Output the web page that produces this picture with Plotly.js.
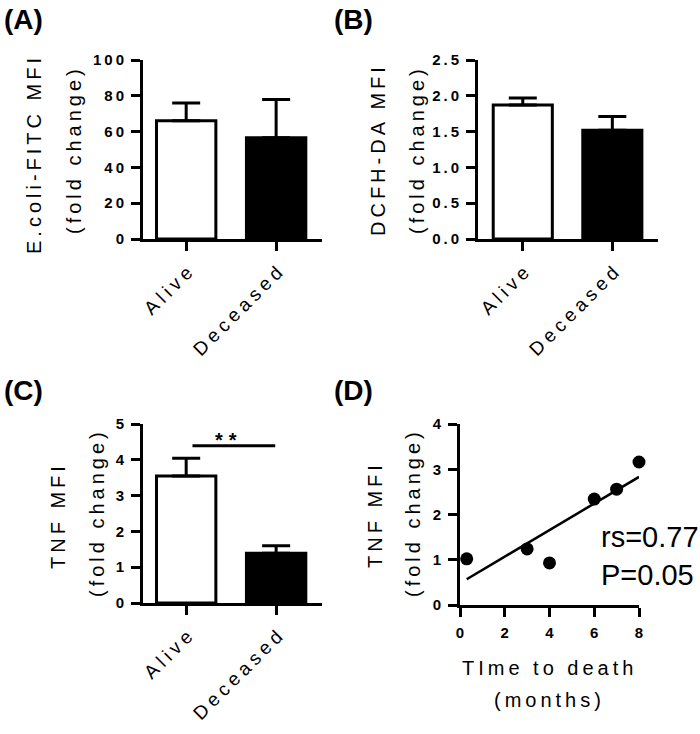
<!DOCTYPE html>
<html><head><meta charset="utf-8">
<script src="https://cdn.plot.ly/plotly-3.0.1.min.js"></script>
<style>
body{margin:0;padding:0;background:#fff}
#chart{width:700px;height:734px}
.xtick text, .x2tick text, .x3tick text {letter-spacing:4.5px}
.ytick text, .y2tick text, .y3tick text, .y4tick text, .x4tick text {letter-spacing:3px; font-weight:700 !important}
.x4tick text {letter-spacing:0px}
</style></head><body><div id="chart"></div>
<script>
const groups = ['Alive', 'Deceased'];
const ecoliMean = [66, 56.5];
const ecoliErr = [10, 21.5];
const dcfhMean = [1.87, 1.52];
const dcfhErr = [0.10, 0.19];
const tnfMean = [3.55, 1.39];
const tnfErr = [0.49, 0.21];
const barColors = ['white', 'black'];
const deathMonths = [0.3, 3, 4, 6, 7, 8];
const deathTnf = [1.02, 1.24, 0.93, 2.34, 2.56, 3.16];
const fitX = [0.3, 8];
const fitY = [0.57, 2.83];

const FAM = 'Arial, "Liberation Sans", sans-serif';
const W = 700, H = 734;
const px = v => v / W;
const py = v => 1 - v / H;

function barTrace(means, errs, xa, ya) {
  return {
    type: 'bar', x: groups, y: means, xaxis: xa, yaxis: ya, width: 0.66,
    marker: {color: barColors, line: {color: 'black', width: 3}},
    error_y: {type: 'data', array: errs, arrayminus: errs.map(() => 0), symmetric: false,
              color: 'black', thickness: 3, width: 14},
    showlegend: false, hoverinfo: 'skip'
  };
}

const data = [
  barTrace(ecoliMean, ecoliErr, 'x', 'y'),
  barTrace(dcfhMean, dcfhErr, 'x2', 'y2'),
  barTrace(tnfMean, tnfErr, 'x3', 'y3'),
  {type: 'scatter', mode: 'markers', x: deathMonths, y: deathTnf, xaxis: 'x4', yaxis: 'y4',
   marker: {color: 'black', size: 13}, cliponaxis: false, showlegend: false, hoverinfo: 'skip'},
  {type: 'scatter', mode: 'lines', x: fitX, y: fitY, xaxis: 'x4', yaxis: 'y4',
   line: {color: 'black', width: 2.5}, cliponaxis: false, showlegend: false, hoverinfo: 'skip'}
];

const common = {showline: true, linewidth: 3, linecolor: 'black', ticks: 'outside', ticklen: 9,
  tickwidth: 3, tickcolor: 'black', showgrid: false, zeroline: false, fixedrange: true};

function catAxis(domain, anchor, range) {
  return Object.assign({}, common, {domain: domain, anchor: anchor, type: 'category', range: range,
    tickangle: -45, ticklabelstandoff: 0, ticklabelshift: 4,
    tickfont: {family: FAM, size: 19, color: 'black'}});
}
function valAxis(domain, anchor, range, dtick, fmt) {
  return Object.assign({}, common, {domain: domain, anchor: anchor, range: range, dtick: dtick,
    tickformat: fmt, ticklabelstandoff: 1,
    tickfont: {family: FAM, size: 15, color: 'black', weight: 'bold'}});
}

const xA = [px(143), px(322)], xB = [px(478), px(658)], xD = [px(460), px(639)];
const yTop = [py(239), py(60)], yC = [py(603), py(424)], yD = [py(605), py(424)];

function ytitle(text, x, y) {
  return {xref: 'paper', yref: 'paper', x: px(x), y: py(y), xanchor: 'center', yanchor: 'middle',
    textangle: -90, showarrow: false,
    text: '<span style="letter-spacing:4px">' + text + '</span>',
    font: {family: FAM, size: 20, color: 'black'}};
}
function panel(text, x, y) {
  return {xref: 'paper', yref: 'paper', x: px(x), y: py(y), xanchor: 'left', yanchor: 'middle',
    showarrow: false, text: text, font: {family: FAM, size: 28, color: 'black', weight: 'bold'}};
}

const layout = {
  width: W, height: H, margin: {l: 0, r: 0, t: 0, b: 0},
  paper_bgcolor: 'white', plot_bgcolor: 'white', showlegend: false,
  xaxis: catAxis(xA, 'y', [-0.48, 1.51]),
  yaxis: valAxis(yTop, 'x', [0, 100], 20),
  xaxis2: catAxis(xB, 'y2', [-0.5, 1.51]),
  yaxis2: valAxis(yTop, 'x2', [0, 2.5], 0.5, '.1f'),
  xaxis3: catAxis(xA, 'y3', [-0.48, 1.51]),
  yaxis3: valAxis(yC, 'x3', [0, 5], 1),
  xaxis4: Object.assign(valAxis(xD, 'y4', [0, 8], 2), {ticklabelstandoff: 3}),
  yaxis4: valAxis(yD, 'x4', [0, 4], 1),
  shapes: [
    {type: 'line', xref: 'x3', yref: 'y3', x0: 0.07, x1: 0.99, y0: 4.39, y1: 4.39,
     line: {color: 'black', width: 3}}
  ],
  annotations: [
    panel('(A)', 2, 20), panel('(B)', 332, 20), panel('(C)', 2, 390), panel('(D)', 332, 390),
    ytitle('E.coli-FITC MFI', 34, 154), ytitle('(fold change)', 74, 150),
    ytitle('DCFH-DA MFI', 378, 150), ytitle('(fold change)', 417, 150),
    ytitle('TNF MFI', 58, 515), ytitle('(fold change)', 97, 513),
    ytitle('TNF MFI', 375, 515), ytitle('(fold change)', 413, 513),
    {xref: 'x3', yref: 'y3', x: 0.48, y: 4.39, xanchor: 'center', yanchor: 'bottom', yshift: -7,
     showarrow: false, text: '<span style="letter-spacing:6px">**</span>',
     font: {family: FAM, size: 20, color: 'black', weight: 'bold'}},
    {xref: 'paper', yref: 'paper', x: px(549), y: py(668), xanchor: 'center', yanchor: 'middle',
     showarrow: false, text: '<span style="letter-spacing:4px">TIme to death</span>',
     font: {family: FAM, size: 20, color: 'black'}},
    {xref: 'paper', yref: 'paper', x: px(549), y: py(700), xanchor: 'center', yanchor: 'middle',
     showarrow: false, text: '<span style="letter-spacing:4px">(months)</span>',
     font: {family: FAM, size: 20, color: 'black'}},
    {xref: 'paper', yref: 'paper', x: px(599), y: py(556), xanchor: 'left', yanchor: 'middle',
     align: 'left', showarrow: false, text: 'rs=0.77<br>P=0.05',
     font: {family: FAM, size: 29, color: 'black'}}
  ]
};

Plotly.newPlot('chart', data, layout, {displayModeBar: false, staticPlot: true});
</script></body></html>
